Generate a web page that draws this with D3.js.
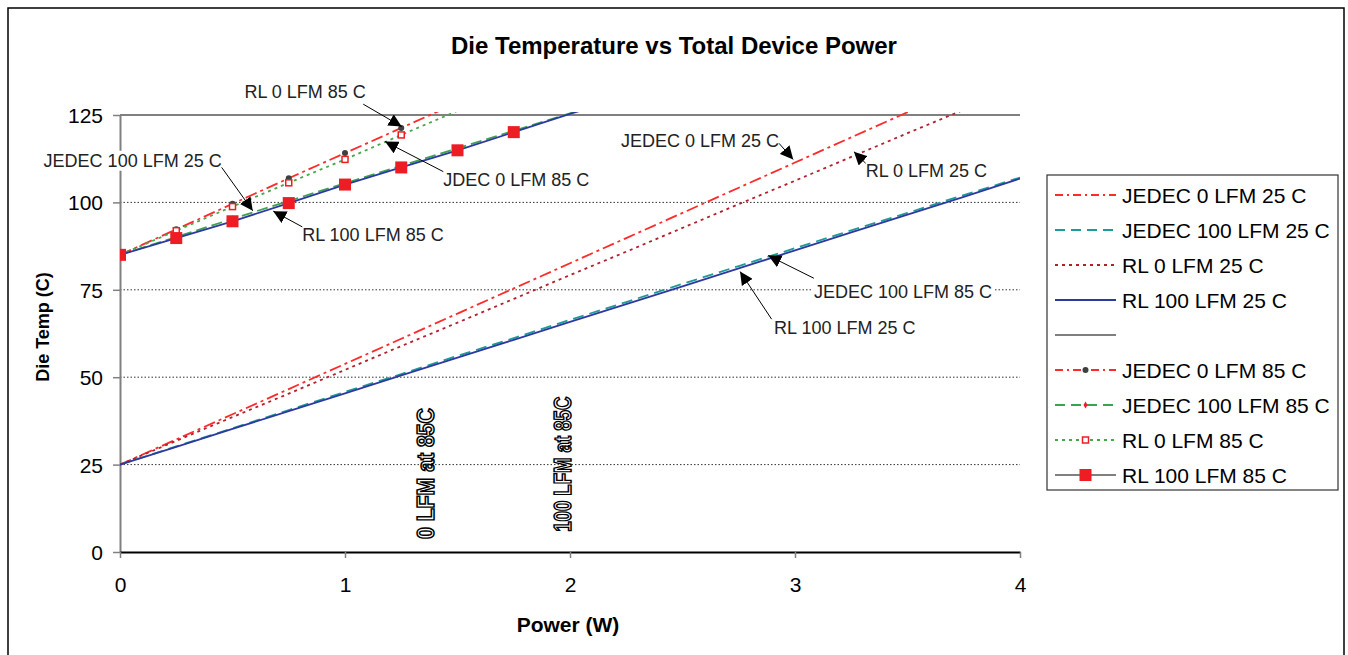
<!DOCTYPE html>
<html lang="en">
<head>
<meta charset="UTF-8">
<title>Die Temperature vs Total Device Power</title>
<script src="https://d3js.org/d3.v7.min.js"></script>
<style>
  body { margin: 0; background: #fff; }
  text { font-family: "Liberation Sans", Arial, sans-serif; }
</style>
</head>
<body>
<script>
// power steps (W)
const power = [0, 0.25, 0.5, 0.75, 1, 1.25, 1.5, 1.75, 2, 2.25, 2.5, 2.75, 3, 3.25, 3.5, 3.75, 4];

// die temperature (C)
const jedec0_25   = [25, 32.2, 39.4, 46.6, 53.8, 61.0, 68.2, 75.4, 82.6, 89.8, 97.0, 104.2, 111.4, 118.6, 125.8, 133.0, 140.2];
const jedec100_25 = [25, 30.2, 35.4, 40.6, 45.8, 50.9, 56.1, 61.2, 66.4, 71.5, 76.7, 81.8, 86.9, 92.0, 97.0, 102.1, 107.1];
const rl0_25      = [25, 31.8, 38.6, 45.3, 52.1, 58.9, 65.6, 72.4, 79.2, 85.9, 92.7, 99.5, 106.2, 113.0, 119.8, 126.5, 133.3];
const rl100_25    = [25, 30.1, 35.2, 40.3, 45.4, 50.5, 55.6, 60.7, 65.8, 70.9, 76.0, 81.1, 86.3, 91.4, 96.5, 101.6, 106.8];
const jedec0_85   = [85, 92.3, 99.6, 106.9, 114.1, 121.3, 128.5];
const jedec100_85 = [85, 90.1, 95.3, 100.4, 105.5, 110.5, 115.5, 120.5, 125.5, 130.5];
const rl0_85      = [85, 91.9, 98.8, 105.6, 112.3, 119.3, 126.2];
const rl100_85    = [85, 89.8, 94.6, 99.8, 105.1, 110.0, 114.9, 120.1, 125.3, 130.3];

const xTicks = [0, 1, 2, 3, 4];
const yTicks = [0, 25, 50, 75, 100, 125];

const legendNames = ["JEDEC 0 LFM 25 C", "JEDEC 100 LFM 25 C", "RL 0 LFM 25 C", "RL 100 LFM 25 C", "",
                     "JEDEC 0 LFM 85 C", "JEDEC 100 LFM 85 C", "RL 0 LFM 85 C", "RL 100 LFM 85 C"];

// annotation labels: text anchor point and arrow (from -> to) in data units
const notes = [
  { label: "RL 0 LFM 85 C",      at: [0.553, 129.9], anchor: "start", from: [1.081, 128.1], to: [1.252, 121.7] },
  { label: "JEDEC 100 LFM 25 C", at: [0.452, 110.2], anchor: "end",   from: [0.452, 110.0], to: [0.590, 97.6] },
  { label: "JDEC 0 LFM 85 C",    at: [1.437, 104.7], anchor: "start", from: [1.437, 108.8], to: [1.178, 117.4] },
  { label: "RL 100 LFM 85 C",    at: [0.810, 89.0],  anchor: "start", from: [0.810, 93.0],  to: [0.681, 97.5] },
  { label: "JEDEC 0 LFM 25 C",   at: [2.929, 115.9], anchor: "end",   from: [2.929, 116.9], to: [2.992, 112.3] },
  { label: "RL 0 LFM 25 C",      at: [3.314, 107.2], anchor: "start", from: [3.314, 111.2], to: [3.262, 114.5] },
  { label: "JEDEC 100 LFM 85 C", at: [3.084, 72.7],  anchor: "start", from: [3.084, 78.3],  to: [2.881, 84.8] },
  { label: "RL 100 LFM 25 C",    at: [2.907, 62.3],  anchor: "start", from: [2.896, 66.6],  to: [2.756, 80.2] }
];

// vertical labels: power position and the temperature where the text begins
const vLabels = [
  { label: "0 LFM at 85C",   p: 1.36, t: 3.7, len: 131 },
  { label: "100 LFM at 85C", p: 1.97, t: 5.8, len: 135 }
];

// series drawing styles
const series = [
  { vals: jedec0_25,   color: "#ff2a2a", dash: "12,4,3,4", marker: null },
  { vals: jedec100_25, color: "#1f9a96", dash: "11,6",     marker: null },
  { vals: rl0_25,      color: "#b2202c", dash: "3,4",      marker: null },
  { vals: rl100_25,    color: "#2c3aa0", dash: null,       marker: null },
  { vals: jedec0_85,   color: "#ff2a2a", dash: "12,4,3,4", marker: "dot" },
  { vals: jedec100_85, color: "#3da24f", dash: "11,5",     marker: "diamond" },
  { vals: rl0_85,      color: "#45a849", dash: "3,4",      marker: "open" },
  { vals: rl100_85,    color: "#2c3aa0", dash: null,       marker: "square" }
];

const width = 1348, height = 655;
const svg = d3.select("body").append("svg")
    .attr("width", width).attr("height", height);

const x = d3.scaleLinear().domain([0, 4]).range([120, 1020]);
const y = d3.scaleLinear().domain([0, 125]).range([552, 115]);

// outer frame
svg.append("rect").attr("x", 8).attr("y", 8).attr("width", 1336).attr("height", 670)
    .attr("fill", "none").attr("stroke", "#000").attr("stroke-width", 1.5);

svg.append("text").attr("x", 674).attr("y", 54).attr("text-anchor", "middle")
    .attr("font-size", 24).attr("font-weight", "bold").text("Die Temperature vs Total Device Power");

// gridlines
svg.append("g").selectAll("line")
    .data(yTicks.filter(d => d > 0 && d < 125)).enter().append("line")
    .attr("x1", x(0)).attr("x2", x(4))
    .attr("y1", d => y(d)).attr("y2", d => y(d))
    .attr("stroke", "#333").attr("stroke-width", 1).attr("stroke-dasharray", "1.5,2");
svg.append("line").attr("x1", x(0)).attr("x2", x(4)).attr("y1", y(125)).attr("y2", y(125))
    .attr("stroke", "#808080").attr("stroke-width", 2);

// axes
const yAxis = svg.append("g").attr("transform", `translate(${x(0)},0)`)
    .call(d3.axisLeft(y).tickValues(yTicks).tickSize(7).tickSizeOuter(0).tickPadding(10));
yAxis.select(".domain").attr("stroke", "#808080").attr("stroke-width", 2);
yAxis.selectAll(".tick line").attr("stroke", "#808080").attr("stroke-width", 1.5);
yAxis.selectAll("text").attr("font-size", 21).attr("dy", "0.36em").attr("fill", "#000")
    .style("font-family", "'Liberation Sans', Arial, sans-serif");

const xAxis = svg.append("g").attr("transform", `translate(0,${y(0)})`)
    .call(d3.axisBottom(x).tickValues(xTicks).tickSize(6).tickSizeOuter(0).tickPadding(19).tickFormat(d3.format("d")));
xAxis.select(".domain").attr("stroke", "#000").attr("stroke-width", 2);
xAxis.selectAll(".tick line").attr("stroke", "#808080").attr("stroke-width", 1.5);
xAxis.selectAll("text").attr("font-size", 21).attr("fill", "#000")
    .style("font-family", "'Liberation Sans', Arial, sans-serif");

svg.append("text").attr("x", 568).attr("y", 632).attr("text-anchor", "middle")
    .attr("font-size", 21).attr("font-weight", "bold").text("Power (W)");
svg.append("text").attr("transform", "translate(48.5,327) rotate(-90)").attr("text-anchor", "middle")
    .attr("font-size", 18).attr("font-weight", "bold").text("Die Temp (C)");

// series lines, clipped to the plot area
svg.append("defs").append("clipPath").attr("id", "plot")
    .append("rect").attr("x", x(0)).attr("y", y(125) - 3).attr("width", x(4) - x(0)).attr("height", y(0) - y(125) + 3);

const line = d3.line().x(d => x(d[0])).y(d => y(d[1]));
const plot = svg.append("g").attr("clip-path", "url(#plot)");

series.forEach(s => {
  s.pts = s.vals.map((v, i) => [power[i], v]);
  plot.append("path").datum(s.pts)
      .attr("fill", "none").attr("stroke", s.color).attr("stroke-width", 1.8)
      .attr("stroke-dasharray", s.dash).attr("d", line);
});

function drawMarker(g, type, cx, cy) {
  if (type === "dot") {
    g.append("circle").attr("cx", cx).attr("cy", cy).attr("r", 3).attr("fill", "#3f3f3f");
  } else if (type === "diamond") {
    g.append("path").attr("d", d3.symbol(d3.symbolDiamond, 14)())
        .attr("transform", `translate(${cx},${cy})`).attr("fill", "#ee1d24");
  } else if (type === "open") {
    g.append("rect").attr("x", cx - 3).attr("y", cy - 3).attr("width", 6).attr("height", 6)
        .attr("fill", "#fff").attr("stroke", "#ee1d24").attr("stroke-width", 1.5);
  } else if (type === "square") {
    g.append("rect").attr("x", cx - 6).attr("y", cy - 6).attr("width", 12).attr("height", 12)
        .attr("fill", "#ee1d24");
  }
}

const markerOrder = [5, 4, 6, 7];
markerOrder.forEach(i => {
  const s = series[i];
  s.pts.filter(d => d[1] <= 125).forEach(d => drawMarker(plot, s.marker, x(d[0]), y(d[1])));
});

// annotations
svg.append("defs").append("marker").attr("id", "arrow")
    .attr("viewBox", "0 0 10 10").attr("refX", 10).attr("refY", 5)
    .attr("markerWidth", 13).attr("markerHeight", 13).attr("markerUnits", "userSpaceOnUse")
    .attr("orient", "auto")
    .append("path").attr("d", "M0,0 L10,5 L0,10 Z").attr("fill", "#000");

const noteG = svg.append("g");
notes.forEach(n => {
  const t = noteG.append("text").attr("x", x(n.at[0])).attr("y", y(n.at[1]))
      .attr("text-anchor", n.anchor).attr("font-size", 18).attr("fill", "#222").text(n.label);
  const b = t.node().getBBox();
  noteG.insert("rect", "text").attr("x", b.x - 2).attr("y", b.y).attr("width", b.width + 4).attr("height", b.height)
      .attr("fill", "#fff");
  noteG.append("line")
      .attr("x1", x(n.from[0])).attr("y1", y(n.from[1]))
      .attr("x2", x(n.to[0])).attr("y2", y(n.to[1]))
      .attr("stroke", "#000").attr("stroke-width", 1).attr("marker-end", "url(#arrow)");
});

// vertical outlined labels
vLabels.forEach(v => {
  svg.append("text")
      .attr("transform", `translate(${x(v.p) + 8},${y(v.t)}) rotate(-90)`)
      .attr("font-size", 23).attr("font-weight", "bold")
      .attr("textLength", v.len).attr("lengthAdjust", "spacingAndGlyphs")
      .attr("fill", "#fff").attr("stroke", "#000").attr("stroke-width", 1.5)
      .text(v.label);
});

// legend
const lg = svg.append("g");
lg.append("rect").attr("x", 1047).attr("y", 175).attr("width", 291).attr("height", 315)
    .attr("fill", "#fff").attr("stroke", "#333").attr("stroke-width", 1.2);

const legendStyle = [
  { color: "#ff2a2a", dash: "8,4,2,4" },
  { color: "#1f9a96", dash: "10,6" },
  { color: "#b2202c", dash: "3,4" },
  { color: "#2c3aa0", dash: null },
  { color: "#000",    dash: null },
  { color: "#ff2a2a", dash: "8,4,2,4" },
  { color: "#3da24f", dash: "10,6" },
  { color: "#45a849", dash: "3,4" },
  { color: "#808080", dash: null }
];
const legendMarkers = [null, null, null, null, null, "dot", "diamond", "open", "square"];

legendNames.forEach((name, i) => {
  const cy = 195 + i * 35;
  lg.append("line").attr("x1", 1055).attr("x2", 1116).attr("y1", cy).attr("y2", cy)
      .attr("stroke", legendStyle[i].color).attr("stroke-width", i === 4 ? 1.2 : 1.8)
      .attr("stroke-dasharray", legendStyle[i].dash);
  if (legendMarkers[i]) drawMarker(lg, legendMarkers[i], 1085.5, cy);
  lg.append("text").attr("x", 1122).attr("y", cy).attr("dy", "0.36em")
      .attr("font-size", 21).attr("fill", "#000").text(name);
});
</script>
</body>
</html>
